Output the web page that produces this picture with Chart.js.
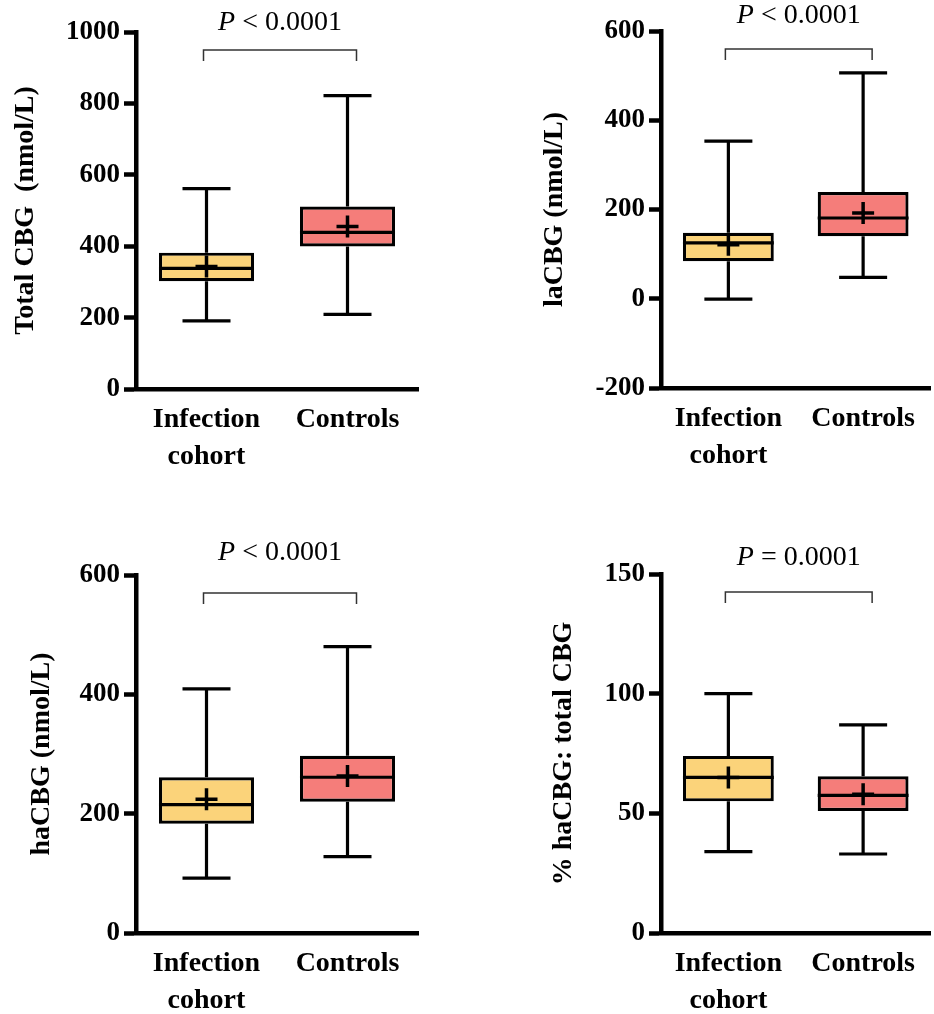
<!DOCTYPE html>
<html>
<head>
<meta charset="utf-8">
<script src="https://cdn.jsdelivr.net/npm/chart.js@4.4.1/dist/chart.umd.min.js"></script>
<style>
  html, body { margin: 0; padding: 0; background: #fff; overflow: hidden; }
  .panel { position: absolute; }
  canvas { display: block; }
</style>
</head>
<body>
<div class="panel" style="left:0;top:0"><canvas id="totalChart" width="467" height="500"></canvas></div>
<div class="panel" style="left:467px;top:0"><canvas id="laChart" width="478" height="500"></canvas></div>
<div class="panel" style="left:0;top:520px"><canvas id="haChart" width="467" height="494"></canvas></div>
<div class="panel" style="left:467px;top:520px"><canvas id="pctChart" width="478" height="494"></canvas></div>
<script>
// groups and colours
const groups = [['Infection', 'cohort'], 'Controls'];
const boxColors = ['#FBD37A', '#F57D7A'];

// Total CBG (nmol/L)
const totalMin = [191, 209];
const totalQ1 = [302, 399];
const totalMedian = [338, 439];
const totalQ3 = [382, 511];
const totalMax = [561, 822];
const totalMean = [343, 455];
const totalTicks = [0, 200, 400, 600, 800, 1000];

// laCBG (nmol/L)
const laMin = [-1, 48];
const laQ1 = [84, 140];
const laMedian = [125, 181];
const laQ3 = [148, 239];
const laMax = [353, 506];
const laMean = [121, 192];
const laTicks = [-200, 0, 200, 400, 600];

// haCBG (nmol/L)
const haMin = [92, 128];
const haQ1 = [183, 220];
const haMedian = [215, 261];
const haQ3 = [261, 297];
const haMax = [409, 480];
const haMean = [224, 263];
const haTicks = [0, 200, 400, 600];

// % haCBG : total CBG
const pctMin = [34, 33];
const pctQ1 = [55, 51];
const pctMedian = [65, 57.5];
const pctQ3 = [74, 65.5];
const pctMax = [100, 87];
const pctMean = [65, 58];
const pctTicks = [0, 50, 100, 150];

const pValues = ['< 0.0001', '< 0.0001', '< 0.0001', '= 0.0001'];

const serif = "'Liberation Serif', 'Times New Roman', serif";

// whiskers behind the boxes, medians on top of them
const boxPlot = {
  id: 'boxPlot',
  beforeDatasetsDraw(chart, args, opts) {
    const x = chart.scales.x, y = chart.scales.y, ctx = chart.ctx;
    const cap = 24;
    ctx.save();
    ctx.strokeStyle = '#000';
    ctx.lineWidth = 3.2;
    opts.min.forEach(function (v, i) {
      const px = x.getPixelForValue(i);
      const yMin = y.getPixelForValue(v), yMax = y.getPixelForValue(opts.max[i]);
      ctx.beginPath();
      ctx.moveTo(px, yMax); ctx.lineTo(px, y.getPixelForValue(opts.q3[i]));
      ctx.moveTo(px, yMin); ctx.lineTo(px, y.getPixelForValue(opts.q1[i]));
      ctx.moveTo(px - cap, yMax); ctx.lineTo(px + cap, yMax);
      ctx.moveTo(px - cap, yMin); ctx.lineTo(px + cap, yMin);
      ctx.stroke();
    });
    ctx.restore();
  },
  afterDatasetDraw(chart, args, opts) {
    if (args.index !== 0) return;
    const y = chart.scales.y, ctx = chart.ctx;
    ctx.save();
    ctx.strokeStyle = '#000';
    ctx.lineWidth = 3.2;
    chart.getDatasetMeta(0).data.forEach(function (bar, i) {
      const py = y.getPixelForValue(opts.median[i]);
      ctx.beginPath();
      ctx.moveTo(bar.x - bar.width / 2, py);
      ctx.lineTo(bar.x + bar.width / 2, py);
      ctx.stroke();
    });
    ctx.restore();
  }
};

// significance bracket with P value above the plot
const bracket = {
  id: 'bracket',
  afterDraw(chart, args, opts) {
    const x = chart.scales.x, ctx = chart.ctx;
    const x0 = x.getPixelForValue(0) - 3, x1 = x.getPixelForValue(1) + 9;
    const top = chart.chartArea.top + 18;
    ctx.save();
    ctx.strokeStyle = '#333';
    ctx.lineWidth = 1.5;
    ctx.beginPath();
    ctx.moveTo(x0, top + 11); ctx.lineTo(x0, top); ctx.lineTo(x1, top); ctx.lineTo(x1, top + 11);
    ctx.stroke();

    const italic = 'italic 28px ' + serif, plain = '28px ' + serif;
    ctx.font = italic;
    const wP = ctx.measureText('P ').width;
    ctx.font = plain;
    const rest = opts.text;
    const wRest = ctx.measureText(rest).width;
    let sx = (x0 + x1) / 2 - (wP + wRest) / 2;
    const ty = chart.chartArea.top + opts.textOffset;
    ctx.fillStyle = '#000';
    ctx.textBaseline = 'middle';
    ctx.textAlign = 'left';
    ctx.font = italic;
    ctx.fillText('P', sx, ty);
    ctx.font = plain;
    ctx.fillText(rest, sx + wP, ty);
    ctx.restore();
  }
};

function makeChart(id, s) {
  const canvas = document.getElementById(id);
  const boxes = s.q1.map(function (v, i) { return [v, s.q3[i]]; });
  return new Chart(canvas.getContext('2d'), {
    type: 'bar',
    data: {
      labels: groups,
      datasets: [{
        data: boxes,
        order: 2,
        backgroundColor: boxColors,
        borderColor: '#000',
        borderWidth: 3.2,
        borderSkipped: false,
        barPercentage: 0.674,
        categoryPercentage: 1
      }, {
        type: 'line',
        data: s.mean,
        order: 1,
        showLine: false,
        pointStyle: 'cross',
        pointRadius: 11,
        pointBorderWidth: 3.5,
        pointBorderColor: '#000'
      }]
    },
    options: {
      responsive: false,
      animation: false,
      layout: { padding: { left: 0, top: s.top, right: canvas.width - s.right, bottom: 0 } },
      plugins: {
        legend: { display: false },
        tooltip: { enabled: false },
        boxPlot: { min: s.min, q1: s.q1, q3: s.q3, max: s.max, median: s.median },
        bracket: { text: s.p, textOffset: s.pOffset }
      },
      scales: {
        x: {
          grid: { display: false, drawTicks: false },
          border: { display: true, color: '#000', width: 4.5 },
          ticks: { color: '#000', padding: 12, font: { family: serif, size: 28, weight: 'bold', lineHeight: 1.32 } },
          afterFit: function (scale) { scale.height = canvas.height - s.bottom; }
        },
        y: {
          min: s.ticks[0],
          max: s.ticks[s.ticks.length - 1],
          grid: { drawOnChartArea: false, drawTicks: true, tickLength: 12, tickWidth: 4.5, tickColor: '#000' },
          border: { display: true, color: '#000', width: 4.5 },
          ticks: {
            stepSize: s.ticks[1] - s.ticks[0], color: '#000', padding: 4,
            font: { family: serif, size: 27, weight: 'bold' },
            callback: function (v) { return String(v); }
          },
          title: { display: true, text: s.title, color: '#000', padding: { top: s.titlePad, bottom: 0 }, font: { family: serif, size: 28, weight: 'bold', lineHeight: 1.2 } },
          afterFit: function (scale) { scale.width = s.left; }
        }
      }
    },
    plugins: [boxPlot, bracket]
  });
}

makeChart('totalChart', {
  min: totalMin, q1: totalQ1, median: totalMedian, q3: totalQ3, max: totalMax, mean: totalMean,
  ticks: totalTicks, title: 'Total CBG  (nmol/L)', p: pValues[0],
  left: 136, top: 32, right: 418, bottom: 389, titlePad: 9, pOffset: -9
});
makeChart('laChart', {
  min: laMin, q1: laQ1, median: laMedian, q3: laQ3, max: laMax, mean: laMean,
  ticks: laTicks, title: 'laCBG (nmol/L)', p: pValues[1],
  left: 194, top: 31, right: 478, bottom: 388, titlePad: 71, pOffset: -15
});
makeChart('haChart', {
  min: haMin, q1: haQ1, median: haMedian, q3: haQ3, max: haMax, mean: haMean,
  ticks: haTicks, title: 'haCBG (nmol/L)', p: pValues[2],
  left: 136, top: 55, right: 418, bottom: 413, titlePad: 25, pOffset: -22
});
makeChart('pctChart', {
  min: pctMin, q1: pctQ1, median: pctMedian, q3: pctQ3, max: pctMax, mean: pctMean,
  ticks: pctTicks, title: '% haCBG: total CBG', p: pValues[3],
  left: 194, top: 54, right: 478, bottom: 413, titlePad: 80, pOffset: -16
});
</script>
</body>
</html>
